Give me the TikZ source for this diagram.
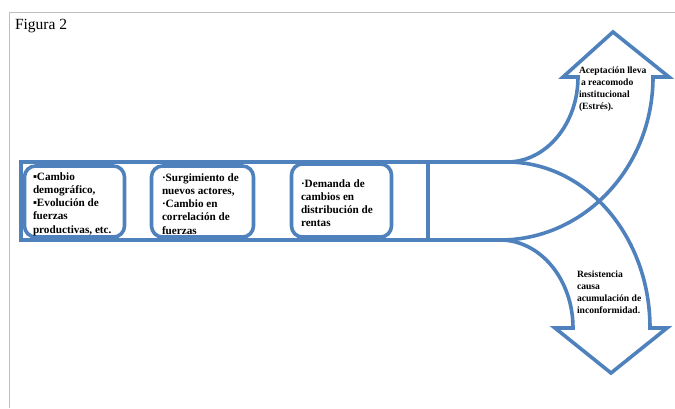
\documentclass[tikz,border=0pt]{standalone}
\usepackage{fontspec}
\setmainfont{Liberation Serif}
\begin{document}
\begin{tikzpicture}[x=1pt,y=-1pt,
  every node/.style={inner sep=0pt, outer sep=0pt},
  flow/.style={draw=flowblue, line width=3.6pt, line join=miter},
  stagebox/.style={draw=flowblue, line width=3.6pt, rounded corners=11pt, fill=white},
  boxtext/.style={anchor=north west, align=left, font=\bfseries\fontsize{11.2}{13.2}\selectfont},
  arrowtext/.style={anchor=north west, align=left, font=\bfseries\fontsize{9.6}{11.8}\selectfont},
  frame/.style={draw=framegray, line width=1pt}]
\definecolor{flowblue}{RGB}{79,129,189}
\definecolor{framegray}{RGB}{190,190,190}
\useasboundingbox (0,0) rectangle (675,408);

% page frame
\draw[frame] (9,408) -- (9,12.5) -- (675,12.5);
\node[anchor=north west, font=\fontsize{15.5}{17}\selectfont] (title) at (15,19) {Figura 2};

% main body of the flow arrow
\draw[flow] (21,162) rectangle (428,240);
\coordinate (topjoin) at (507,162);
\coordinate (botjoin) at (500,240);
\draw[flow] (428,162) -- (topjoin);
\draw[flow] (428,240) -- (botjoin);

% upward branch
\draw[flow] (topjoin) .. controls (546.2,162) and (578,123.9) .. (578,77)
  -- (563,77) -- (613,32) -- (669,77) -- (653,77)
  .. controls (653,167) and (584.5,240) .. (botjoin);

% downward branch
\draw[flow] (botjoin) .. controls (540.3,240) and (573,279.4) .. (573,328)
  -- (555,328) -- (611,373) -- (667,328) -- (650,328)
  .. controls (650,236.3) and (586,162) .. (topjoin);

% stage boxes
\node[stagebox, minimum width=100pt, minimum height=71pt] (b1) at (74.5,201.5) {};
\node[stagebox, minimum width=102pt, minimum height=71pt] (b2) at (202.5,201.5) {};
\node[stagebox, minimum width=100pt, minimum height=73pt] (b3) at (341.5,200.5) {};

\node[boxtext] (t1) at (33,172.5) {▪Cambio\\demográfico,\\▪Evolución de\\fuerzas\\productivas, etc.};
\node[boxtext] (t2) at (162,173.5) {·Surgimiento de\\nuevos actores,\\·Cambio en\\correlación de\\fuerzas};
\node[boxtext] (t3) at (301,179.5) {·Demanda de\\cambios en\\distribución de\\rentas};

% branch captions
\node[arrowtext] (up) at (579,67) {Aceptación lleva\\\hspace{2pt}a reacomodo\\institucional\\(Estrés).};
\node[arrowtext] (down) at (577,271) {Resistencia\\causa\\acumulación de\\inconformidad.};
\end{tikzpicture}
\end{document}
